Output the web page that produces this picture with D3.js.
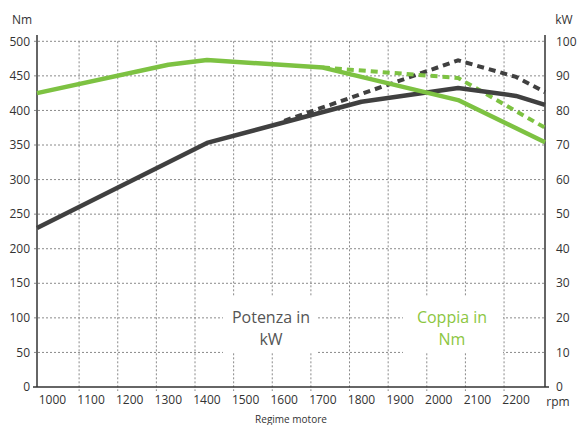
<!DOCTYPE html>
<html lang="en">
<head>
<meta charset="utf-8">
<title>Potenza e coppia</title>
<script src="https://d3js.org/d3.v7.min.js"></script>
<style>
  body { margin: 0; background: #fff; }
  text { font-family: "Open Sans", "DejaVu Sans", sans-serif; fill: #333; }
</style>
</head>
<body>
<svg id="chart" width="577" height="425"></svg>
<script>
// data (rpm positions of the kinks)
var rpmTicks = [1000, 1100, 1200, 1300, 1400, 1500, 1600, 1700, 1800, 1900, 2000, 2100, 2200];
var nmTicks = [0, 50, 100, 150, 200, 250, 300, 350, 400, 450, 500];
var kwTicks = [0, 10, 20, 30, 40, 50, 60, 70, 80, 90, 100];

var coppiaRpm = [960, 1300, 1400, 1700, 2050, 2275];
var coppiaNm = [425, 466, 473, 462, 415, 354];
var coppiaAltRpm = [1700, 2050, 2275];
var coppiaAltNm = [462, 447, 375];

var potenzaRpm = [960, 1400, 1800, 2050, 2200, 2275];
var potenzaKw = [46, 70.6, 82.5, 86.5, 84.2, 81.6];
var potenzaAltRpm = [1600, 2050, 2200, 2275];
var potenzaAltKw = [77, 94.5, 89.7, 85.3];

var green = "#7dc242", dark = "#404040";

var svg = d3.select("#chart");
var x = d3.scaleLinear().domain([960, 2275]).range([37, 545]);
var yNm = d3.scaleLinear().domain([0, 500]).range([387, 41.3]);
var yKw = d3.scaleLinear().domain([0, 100]).range([387, 41.3]);

// grid lines (vertical ones sit between the labels)
var gridRpm = rpmTicks.slice(0, 12).map(function(d) { return d + 69; });

var grid = svg.append("g").attr("stroke", "#8a8a8a").attr("stroke-width", 1)
  .attr("stroke-dasharray", "2,2");
grid.selectAll(".h").data(nmTicks.slice(1)).enter().append("line")
  .attr("x1", 34).attr("x2", 545)
  .attr("y1", function(d) { return yNm(d); }).attr("y2", function(d) { return yNm(d); });
grid.selectAll(".v").data(gridRpm).enter().append("line")
  .attr("x1", function(d) { return x(d); }).attr("x2", function(d) { return x(d); })
  .attr("y1", yNm(500)).attr("y2", 391);

// white boxes behind the legend text
svg.append("rect").attr("x", 223).attr("y", 297).attr("width", 95).attr("height", 56).attr("fill", "#fff");
svg.append("rect").attr("x", 403).attr("y", 297).attr("width", 100).attr("height", 56).attr("fill", "#fff");

// axes
svg.append("line").attr("x1", 37).attr("x2", 37).attr("y1", 35).attr("y2", 387)
  .attr("stroke", "#333").attr("stroke-width", 1.5);
svg.append("line").attr("x1", 545).attr("x2", 545).attr("y1", 35).attr("y2", 387)
  .attr("stroke", "#333").attr("stroke-width", 1.5);
svg.append("line").attr("x1", 33).attr("x2", 549).attr("y1", 387).attr("y2", 387)
  .attr("stroke", "#333").attr("stroke-width", 1.5);

svg.append("g").selectAll("text").data(nmTicks).enter().append("text")
  .attr("x", 30).attr("y", function(d) { return yNm(d); }).attr("dy", "0.35em")
  .attr("text-anchor", "end").attr("font-size", 12).text(function(d) { return d; });
svg.append("g").selectAll("text").data(kwTicks).enter().append("text")
  .attr("x", 556).attr("y", function(d) { return yKw(d); }).attr("dy", "0.35em")
  .attr("text-anchor", "start").attr("font-size", 12).text(function(d) { return d; });
svg.append("g").selectAll("text").data(rpmTicks).enter().append("text")
  .attr("x", function(d) { return x(d); }).attr("y", 404)
  .attr("text-anchor", "middle").attr("font-size", 12).text(function(d) { return d; });

svg.append("text").attr("x", 558).attr("y", 406).attr("text-anchor", "middle")
  .attr("font-size", 12).text("rpm");
svg.append("text").attr("x", 22).attr("y", 24).attr("text-anchor", "middle")
  .attr("font-size", 12).text("Nm");
svg.append("text").attr("x", 564).attr("y", 24).attr("text-anchor", "middle")
  .attr("font-size", 12).text("kW");
svg.append("text").attr("x", 291).attr("y", 423).attr("text-anchor", "middle")
  .attr("font-size", 10).text("Regime motore");

// curves
function pts(rpm, vals) { return rpm.map(function(r, i) { return [r, vals[i]]; }); }
var lineNm = d3.line().x(function(d) { return x(d[0]); }).y(function(d) { return yNm(d[1]); });
var lineKw = d3.line().x(function(d) { return x(d[0]); }).y(function(d) { return yKw(d[1]); });

svg.append("path").attr("d", lineKw(pts(potenzaAltRpm, potenzaAltKw)))
  .attr("fill", "none").attr("stroke", dark).attr("stroke-width", 4).attr("stroke-dasharray", "7,5");
svg.append("path").attr("d", lineNm(pts(coppiaAltRpm, coppiaAltNm)))
  .attr("fill", "none").attr("stroke", green).attr("stroke-width", 4).attr("stroke-dasharray", "7,5");
svg.append("path").attr("d", lineKw(pts(potenzaRpm, potenzaKw)))
  .attr("fill", "none").attr("stroke", dark).attr("stroke-width", 4.5).attr("stroke-linejoin", "round");
svg.append("path").attr("d", lineNm(pts(coppiaRpm, coppiaNm)))
  .attr("fill", "none").attr("stroke", green).attr("stroke-width", 4.5).attr("stroke-linejoin", "round");

// legend text
var leg = svg.append("g").attr("font-size", 16).attr("text-anchor", "middle");
leg.append("text").attr("x", 271).attr("y", 323).style("fill", "#555").text("Potenza in");
leg.append("text").attr("x", 271).attr("y", 345).style("fill", "#555").text("kW");
leg.append("text").attr("x", 452).attr("y", 323).style("fill", "#8cc63f").text("Coppia in");
leg.append("text").attr("x", 452).attr("y", 345).style("fill", "#8cc63f").text("Nm");
</script>
</body>
</html>
